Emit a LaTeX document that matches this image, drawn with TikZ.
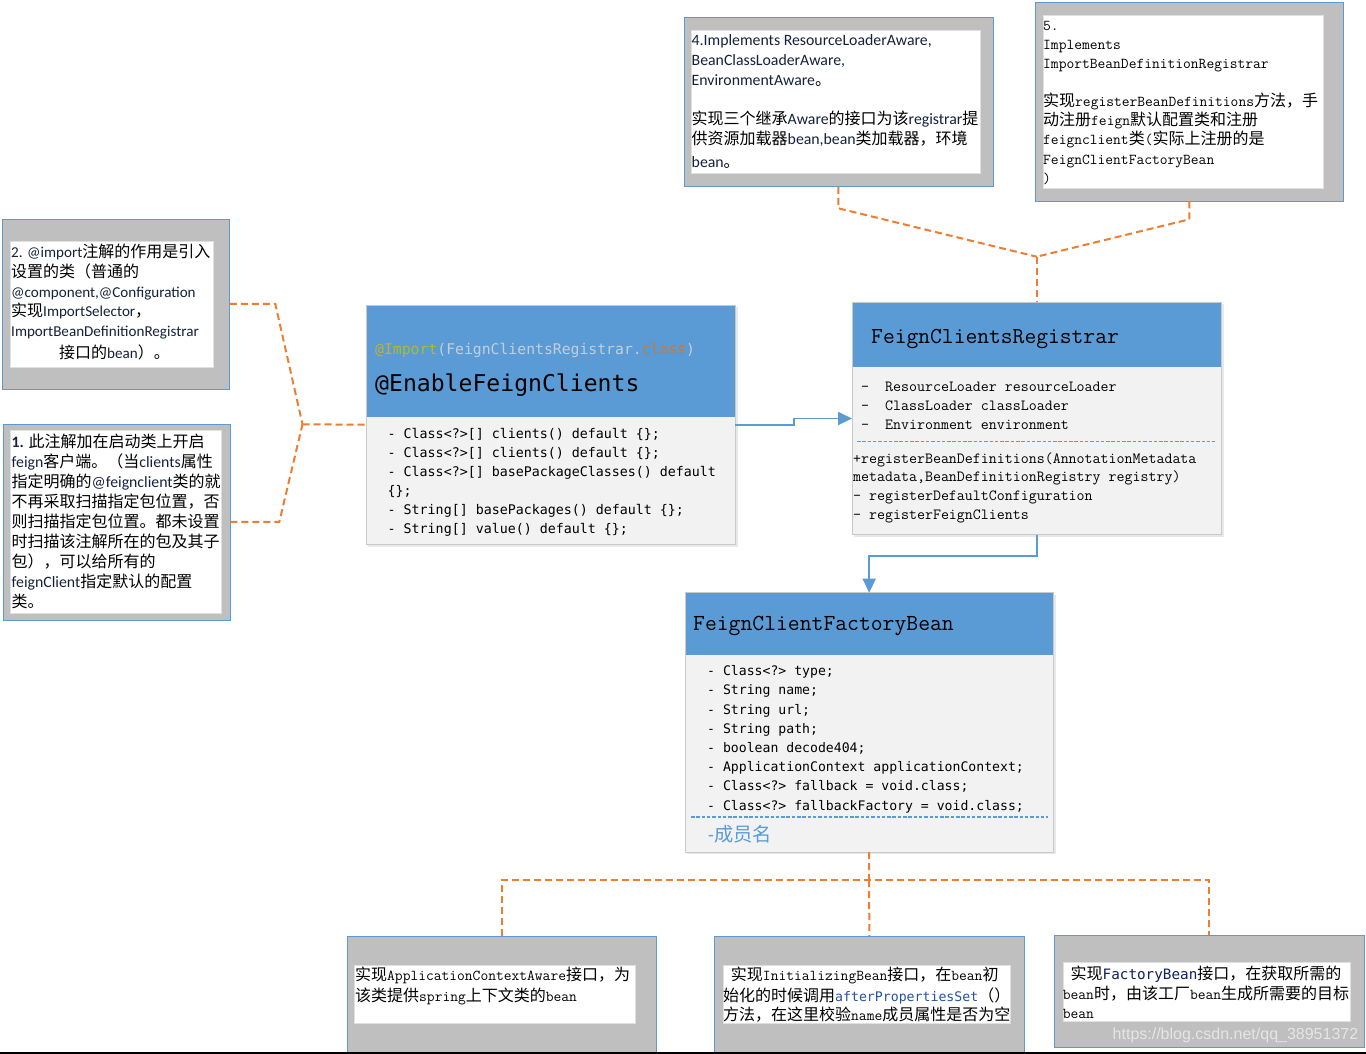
\documentclass[tikz,border=0pt]{standalone}
\usepackage{fontspec}
\setmainfont{Carlito}
\newfontfamily\cjk{Noto Sans CJK SC}
\newfontfamily\smono{DejaVu Sans Mono}
\newfontfamily\wmfont{Liberation Sans}
\usetikzlibrary{arrows.meta}

\definecolor{hdrblue}{HTML}{5B9BD5}
\definecolor{bodygray}{HTML}{F2F2F2}
\definecolor{notegray}{HTML}{BFBFBF}
\definecolor{linkorange}{HTML}{ED7D31}
\definecolor{frameline}{HTML}{C9C9C9}
\definecolor{annotcol}{HTML}{BBB529}
\definecolor{codegray}{HTML}{C5CED8}
\definecolor{kwcol}{HTML}{CC7832}
\definecolor{navy}{HTML}{15213C}
\definecolor{methblue}{HTML}{2450A8}
\definecolor{typenavy}{HTML}{102060}

% Chinese runs inside Latin text
\newcommand\zh[1]{{\color{black}\cjk\fontsize{16}{\baselineskip}\selectfont #1}}

\tikzset{
  notebox/.style={draw=hdrblue, line width=0.8pt, fill=notegray, inner sep=0pt, anchor=north west},
  notepaper/.style={fill=white, draw=black!12, line width=0.5pt, inner sep=0pt, anchor=north west},
  classbox/.style={fill=bodygray, inner sep=0pt, anchor=north west},
  classhead/.style={fill=hdrblue, inner sep=0pt, anchor=north west},
  txt/.style={inner sep=0pt, anchor=north west, align=left},
  link/.style={draw=linkorange, line width=2pt, dash pattern=on 7pt off 4pt},
  flow/.style={draw=hdrblue, line width=1.7pt, -{Triangle[length=14pt,width=13pt]}},
  divider/.style={draw=hdrblue, line width=1.6pt, dash pattern=on 3.5pt off 1.8pt},
  boxshadow/.style={fill=black!9},
}

\begin{document}
\begin{tikzpicture}[x=1pt,y=-1pt]
\useasboundingbox (0,0) rectangle (1366,1054);
\fill[white] (0,0) rectangle (1366,1054);

% ---------- note 2 ----------
\node[notebox, minimum width=227, minimum height=170] (n2) at (2,218.5) {};
\node[notepaper, minimum width=203, minimum height=126] (n2p) at (9.5,241) {};
\node[txt, text=navy, font=\fontsize{15.1}{19.6}\selectfont] (n2t) at (11,244) {%
\strut 2. @import\zh{注解的作用是引入}\\
\zh{设置的类（普通的}\\
@component,@Configuration\\
\zh{实现}ImportSelector\zh{，}\\
ImportBeanDefinitionRegistrar\\[3pt]
\hspace*{48pt}\zh{接口的}bean\zh{）。}};

% ---------- note 1 ----------
\node[notebox, minimum width=227, minimum height=196] (n1) at (2.5,423.5) {};
\node[notepaper, minimum width=211, minimum height=183] (n1p) at (10,430) {};
\node[txt, text=navy, font=\fontsize{15.8}{20}\selectfont] (n1t) at (11.5,433.7) {%
\strut\textbf{1.} \zh{此注解加在启动类上开启}\\
feign\zh{客户端。（当}clients\zh{属性}\\
\zh{指定明确的}@feignclient\zh{类的就}\\
\zh{不再采取扫描指定包位置，否}\\
\zh{则扫描指定包位置。都未设置}\\
\zh{时扫描该注解所在的包及其子}\\
\zh{包），可以给所有的}\\
feignClient\zh{指定默认的配置}\\
\zh{类。}};

% ---------- note 4 ----------
\node[notebox, minimum width=309, minimum height=169] (n4) at (683.5,17) {};
\node[notepaper, minimum width=289, minimum height=143] (n4p) at (691,30) {};
\node[txt, text=navy, font=\fontsize{15.8}{20.3}\selectfont] (n4t) at (691.5,30.8) {%
\strut 4.Implements ResourceLoaderAware,\\
BeanClassLoaderAware,\\
EnvironmentAware\zh{。}\\[18.3pt]
\zh{实现三个继承}Aware\zh{的接口为该}registrar\zh{提}\\
\zh{供资源加载器}bean,bean\zh{类加载器，环境}\\[2pt]
bean\zh{。}};

% ---------- note 5 ----------
\node[notebox, minimum width=308, minimum height=198] (n5) at (1035,2.5) {};
\node[notepaper, minimum width=280, minimum height=173] (n5p) at (1042.5,15) {};
\node[txt, font=\ttfamily\fontsize{15.1}{19.1}\selectfont] (n5t) at (1043,16.6) {%
\strut 5.\\
Implements\\
ImportBeanDefinitionRegistrar\\[19.3pt]
\zh{实现}registerBeanDefinitions\zh{方法，手}\\
\zh{动注册}feign\zh{默认配置类和注册}\\
feignclient\zh{类}(\zh{实际上注册的是}\\
FeignClientFactoryBean\\
)};

% ---------- @EnableFeignClients ----------
\fill[boxshadow] (368,307) rectangle (737.5,546.5);
\node[classbox, minimum width=369, minimum height=239] (ef) at (366,305) {};
\node[classhead, minimum width=369, minimum height=112] (efh) at (ef.north west) {};
\draw[frameline, line width=1pt] (ef.north west) rectangle (ef.south east);
\node[txt, anchor=base west, font=\smono\fontsize{14.76}{18}\selectfont] (efa) at (375,354)
  {\textcolor{annotcol}{@Import}\textcolor{codegray}{(FeignClientsRegistrar.}\textcolor{kwcol}{class}\textcolor{codegray}{)}};
\node[txt, anchor=base west, font=\smono\fontsize{23.1}{28}\selectfont] (efn) at (375,391.7) {@EnableFeignClients};
\node[txt, font=\smono\fontsize{13.3}{19.07}\selectfont] (efb) at (387.5,424.6) {%
\strut- Class<?>[] clients() default \{\};\\
- Class<?>[] clients() default \{\};\\
- Class<?>[] basePackageClasses() default\\
\{\};\\
- String[] basePackages() default \{\};\\
- String[] value() default \{\};};

% ---------- FeignClientsRegistrar ----------
\fill[boxshadow] (854,304.3) rectangle (1223.5,536.8);
\node[classbox, minimum width=369, minimum height=232] (reg) at (852,302.3) {};
\node[classhead, minimum width=369, minimum height=64.5] (regh) at (reg.north west) {};
\draw[frameline, line width=1pt] (reg.north west) rectangle (reg.south east);
\node[txt, anchor=base west, font=\ttfamily\fontsize{22.9}{28}\selectfont] (regn) at (871,343.3) {FeignClientsRegistrar};
\node[txt, font=\ttfamily\fontsize{15.5}{18.67}\selectfont] (regf) at (861,378.6) {%
\strut-\ \ ResourceLoader resourceLoader\\
-\ \ ClassLoader classLoader\\
-\ \ Environment environment};
\draw[divider] (857,441.5) -- (1215,441.5);
\node[txt, font=\ttfamily\fontsize{15.5}{18.9}\selectfont] (regm) at (853,449.6) {%
\strut+registerBeanDefinitions(AnnotationMetadata\\
metadata,BeanDefinitionRegistry registry)\\
-\ registerDefaultConfiguration\\
-\ registerFeignClients};

% ---------- FeignClientFactoryBean ----------
\fill[boxshadow] (687,594.7) rectangle (1055.5,854.2);
\node[classbox, minimum width=368, minimum height=259] (fb) at (685,592.7) {};
\node[classhead, minimum width=368, minimum height=62.3] (fbh) at (fb.north west) {};
\draw[frameline, line width=1pt] (fb.north west) rectangle (fb.south east);
\node[txt, anchor=base west, font=\ttfamily\fontsize{23}{28}\selectfont] (fbn) at (693,630.7) {FeignClientFactoryBean};
\node[txt, font=\smono\fontsize{13.15}{19.19}\selectfont] (fbf) at (707,662.1) {%
\strut- Class<?> type;\\
- String name;\\
- String url;\\
- String path;\\
- boolean decode404;\\
- ApplicationContext applicationContext;\\
- Class<?> fallback = void.class;\\
- Class<?> fallbackFactory = void.class;};
\draw[divider] (691,816.7) -- (1047.7,816.7);
\node[txt, anchor=base west, text=hdrblue, font=\fontsize{19}{22}\selectfont] (fbm) at (708,841.6)
  {-{\cjk\fontsize{19.3}{22}\selectfont 成员名}};

% ---------- bottom notes ----------
\node[notebox, minimum width=309, minimum height=118] (na) at (347,936) {};
\node[notepaper, minimum width=280.5, minimum height=58] (nap) at (354,965) {};
\node[txt, font=\ttfamily\fontsize{15.1}{18.3}\selectfont] (nat) at (355,967.2) {%
\strut\zh{实现}ApplicationContextAware\zh{接口，为}\\
\zh{该类提供}spring\zh{上下文类的}bean};

\node[notebox, minimum width=310, minimum height=118] (nb) at (714,936) {};
\node[notepaper, minimum width=287, minimum height=58] (nbp) at (722.5,965) {};
\node[txt, font=\ttfamily\fontsize{15.1}{19.2}\selectfont] (nbt) at (723,967.1) {%
\strut\ \zh{实现}InitializingBean\zh{接口，在}bean\zh{初}\\
\zh{始化的时候调用}{\smono\fontsize{13.2}{19.2}\selectfont\color{methblue}afterPropertiesSet}\zh{（）}\\
\zh{方法，在这里校验}name\zh{成员属性是否为空}};

\node[notebox, minimum width=310, minimum height=112] (nc) at (1054,935) {};
\node[notepaper, minimum width=287, minimum height=58.5] (ncp) at (1062.5,962.3) {};
\node[txt, font=\ttfamily\fontsize{15.1}{19.2}\selectfont] (nct) at (1062.7,965.4) {%
\strut\ \zh{实现}{\smono\fontsize{14.3}{19.2}\selectfont\color{typenavy}FactoryBean}\zh{接口，在获取所需的}\\
bean\zh{时，由该工厂}bean\zh{生成所需要的目标}\\
bean};
\node[anchor=west, inner sep=0pt, font=\wmfont\fontsize{16}{18}\selectfont, text=white, text opacity=0.6] (wm)
  at (1112.5,1035) {https://blog.csdn.net/qq\_38951372};

% ---------- dashed links ----------
\coordinate (jl) at (302.5,424.3);
\draw[link] (n2.east) -- ++(45.5,0) -- (jl);
\draw[link] (n1.east) -- ++(49,0) -- (jl);
\draw[link] (jl) -- (ef.west);

\coordinate (jt) at (1036.7,256.7);
\draw[link] (n4.south) -- ++(0,21.5) -- (jt);
\draw[link] (n5.south) -- ++(0,18) -- (jt);
\draw[link] (jt) -- (reg.north);

\coordinate (jb) at (869,880);
\draw[link] (fb.south) -- (jb);
\draw[link] (na.north) -- (na.north |- jb) -- (nc.north |- jb) -- (nc.north);
\draw[link] (jb) -- (nb.north);

% ---------- flow arrows ----------
\draw[flow] (ef.east) -- ++(58.3,0) |- (reg.west);
\draw[flow] (reg.south) -- ++(0,21.5) -| (fb.north);

% frame edge
\draw[black, line width=1.5pt] (0,1052.8) -- (1366,1052.8);
\end{tikzpicture}
\end{document}
